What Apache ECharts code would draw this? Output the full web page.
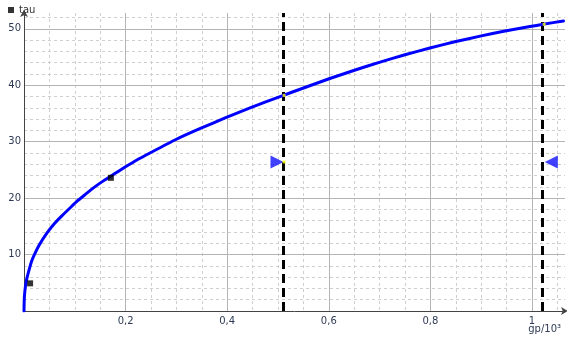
<!DOCTYPE html>
<html>
<head>
<meta charset="utf-8">
<script src="https://cdn.jsdelivr.net/npm/echarts@6/dist/echarts.min.js"></script>
<style>html,body{margin:0;padding:0;background:#fff}#c{width:567px;height:339px}</style>
</head>
<body>
<div id="c"></div>
<script>
// curve tau(gp)
const curveX = [0, 0.0003, 0.001, 0.003, 0.006, 0.01, 0.015, 0.02, 0.03, 0.045, 0.06, 0.075, 0.09, 0.105, 0.12, 0.138, 0.157, 0.178, 0.199, 0.223, 0.248, 0.297, 0.346, 0.396, 0.445, 0.504, 0.553, 0.602, 0.652, 0.701, 0.75, 0.799, 0.848, 0.898, 0.947, 0.996, 1.022, 1.062];
const curveY = [0, 1.5, 2.8, 4.5, 5.9, 7.3, 8.8, 9.9, 11.7, 13.8, 15.5, 16.9, 18.2, 19.5, 20.6, 21.9, 23.1, 24.3, 25.5, 26.8, 28.0, 30.3, 32.3, 34.2, 36.0, 38.0, 39.6, 41.2, 42.7, 44.1, 45.4, 46.6, 47.7, 48.7, 49.6, 50.4, 50.8, 51.4];
// black square markers (tau)
const tauX = [0.012, 0.171];
const tauY = [4.9, 23.6];
// vertical dashed lines
const vLines = [0.512, 1.024];
// blue arrow markers
const arrowX = [0.498, 1.038];
const arrowY = [26.4, 26.4];
const arrowRot = [-90, 90];
// small yellow points
const dotX = [0.512, 0.512, 1.024];
const dotY = [38.2, 26.4, 50.8];
// axes
const xMin = 0, xMax = 1.065, xMajor = 0.2, xMinor = 0.05;
const yMin = 0, yMax = 52.8, yMajor = 10, yMinor = 2;

const zip = (a, b) => a.map((v, i) => [v, b[i]]);
const labelColor = '#2e3a55';
const font = 'DejaVu Sans';

const chart = echarts.init(document.getElementById('c'));
chart.setOption({
  animation: false,
  grid: { left: 24, top: 13, right: 2, bottom: 28, containLabel: false },
  legend: {
    left: 3, top: 0, itemWidth: 6, itemHeight: 6, icon: 'rect',
    data: ['tau'],
    textStyle: { fontFamily: font, fontSize: 10, color: '#333' }
  },
  title: {
    text: 'gp/10³', right: 1, bottom: 0,
    textStyle: { fontFamily: font, fontSize: 10, fontWeight: 'normal', color: labelColor }
  },
  xAxis: [
    {
      type: 'value', min: xMin, max: xMax, interval: xMajor,
      axisLine: { show: true, lineStyle: { color: '#444', width: 1 }, symbol: ['none', 'arrow'], symbolSize: [6, 7], symbolOffset: [0, 3] },
      axisTick: { show: false },
      axisLabel: {
        showMinLabel: false, showMaxLabel: false, margin: 5,
        fontFamily: font, fontSize: 10, color: labelColor,
        formatter: v => String(+v.toFixed(3)).replace('.', ',')
      },
      splitLine: { show: true, showMinLine: false, showMaxLine: false, lineStyle: { color: '#b4b4b4', width: 1 } },
      z: 3
    },
    {
      type: 'value', min: xMin, max: xMax, interval: xMinor,
      axisLine: { show: false }, axisTick: { show: false }, axisLabel: { show: false },
      splitLine: { show: true, showMinLine: false, showMaxLine: false, lineStyle: { color: '#cfcfcf', width: 1, type: [3, 3] } },
      z: 1
    }
  ],
  yAxis: [
    {
      type: 'value', min: yMin, max: yMax, interval: yMajor, position: 'left',
      axisLine: { show: true, lineStyle: { color: '#444', width: 1 }, symbol: ['none', 'arrow'], symbolSize: [6, 7], symbolOffset: [0, 3] },
      axisTick: { show: false },
      axisLabel: { showMinLabel: false, showMaxLabel: false, margin: 3, fontFamily: font, fontSize: 10, color: labelColor },
      splitLine: { show: true, showMinLine: false, showMaxLine: false, lineStyle: { color: '#b4b4b4', width: 1 } },
      z: 3
    },
    {
      type: 'value', min: yMin, max: yMax, interval: yMinor, position: 'left',
      axisLine: { show: false }, axisTick: { show: false }, axisLabel: { show: false },
      splitLine: { show: true, showMinLine: false, showMaxLine: false, lineStyle: { color: '#cfcfcf', width: 1, type: [3, 3] } },
      z: 1
    }
  ],
  series: [
    {
      name: 'curve', type: 'line', xAxisIndex: 0, yAxisIndex: 0,
      data: zip(curveX, curveY), smooth: 0.15, showSymbol: false, symbol: 'none',
      lineStyle: { color: '#0000ff', width: 3, join: 'round', cap: 'round' }, silent: true, z: 5,
      markLine: {
        silent: true, symbol: 'none', label: { show: false },
        lineStyle: { color: '#000', width: 3, type: [9, 5] },
        data: vLines.map(v => ({ xAxis: v }))
      }
    },
    {
      name: 'tau', type: 'scatter', xAxisIndex: 0, yAxisIndex: 0,
      data: zip(tauX, tauY), symbol: 'rect', symbolSize: 6,
      itemStyle: { color: '#000' }, z: 6
    },
    {
      name: 'arrows', type: 'scatter', xAxisIndex: 0, yAxisIndex: 0,
      data: arrowX.map((x, i) => ({ value: [x, arrowY[i]], symbolRotate: arrowRot[i] })),
      symbol: 'triangle', symbolSize: [13, 13],
      itemStyle: { color: '#1010ff' }, z: 7
    },
    {
      name: 'dots', type: 'scatter', xAxisIndex: 0, yAxisIndex: 0,
      data: zip(dotX, dotY), symbol: 'rect', symbolSize: 3,
      itemStyle: { color: '#ffff00' }, z: 8
    }
  ]
});
</script>
</body>
</html>
